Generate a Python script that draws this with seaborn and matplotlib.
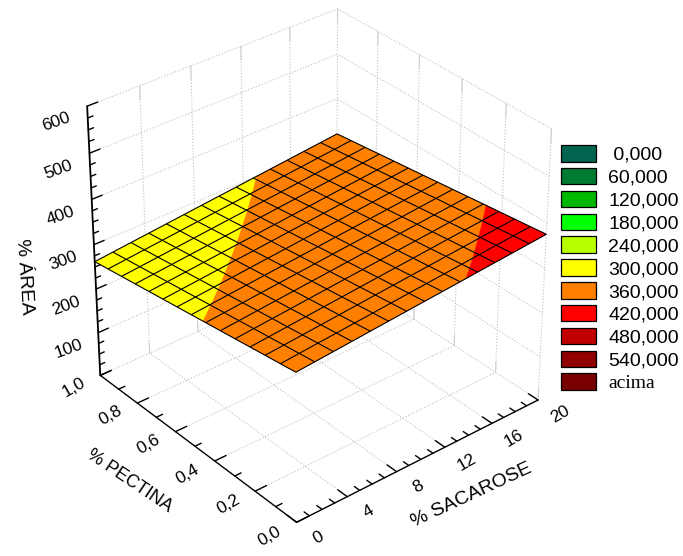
import numpy as np
import matplotlib
matplotlib.use("Agg")
import matplotlib.pyplot as plt
from matplotlib.patches import Patch
from mpl_toolkits.mplot3d import proj3d
from mpl_toolkits.mplot3d.art3d import Poly3DCollection
import seaborn as sns

# axis values
sacarose_ticks = [0, 4, 8, 12, 16, 20]
pectina_ticks = [0.0, 0.2, 0.4, 0.6, 0.8, 1.0]
pectina_labels = ["0,0", "0,2", "0,4", "0,6", "0,8", "1,0"]
area_ticks = [100, 200, 300, 400, 500, 600]

# surface: one row per pectina step (0 to 1), one column per sacarose step (0 to 20)
sacarose_grid = [0, 1.43, 2.86, 4.29, 5.71, 7.14, 8.57, 10, 11.43, 12.86, 14.29, 15.71, 17.14, 18.57, 20]
pectina_grid = [0, .0714, .1429, .2143, .2857, .3571, .4286, .5, .5714, .6429, .7143, .7857, .8571, .9286, 1]
area_grid = [
    [330.0, 333.2, 336.4, 339.6, 342.9, 346.1, 349.3, 352.5, 355.7, 358.9, 362.2, 365.4, 368.6, 371.8, 375.0],
    [325.1, 328.4, 331.7, 334.9, 338.2, 341.5, 344.8, 348.1, 351.3, 354.6, 357.9, 361.2, 364.5, 367.8, 371.0],
    [320.3, 323.6, 327.0, 330.3, 333.7, 337.0, 340.4, 343.7, 347.1, 350.4, 353.8, 357.1, 360.5, 363.8, 367.1],
    [315.4, 318.8, 322.2, 325.6, 329.0, 332.5, 335.9, 339.3, 342.7, 346.1, 349.5, 352.9, 356.3, 359.8, 363.2],
    [310.6, 314.1, 317.6, 321.0, 324.5, 328.0, 331.5, 334.9, 338.4, 341.9, 345.4, 348.8, 352.3, 355.8, 359.3],
    [305.7, 309.2, 312.8, 316.3, 319.9, 323.4, 327.0, 330.5, 334.0, 337.6, 341.1, 344.7, 348.2, 351.7, 355.3],
    [300.9, 304.5, 308.1, 311.7, 315.3, 318.9, 322.5, 326.2, 329.8, 333.4, 337.0, 340.6, 344.2, 347.8, 351.4],
    [296.0, 299.7, 303.3, 307.0, 310.7, 314.4, 318.0, 321.7, 325.4, 329.1, 332.7, 336.4, 340.1, 343.7, 347.4],
    [291.1, 294.8, 298.6, 302.3, 306.1, 309.8, 313.5, 317.3, 321.0, 324.7, 328.5, 332.2, 336.0, 339.7, 343.4],
    [286.3, 290.1, 293.9, 297.7, 301.5, 305.3, 309.1, 312.9, 316.7, 320.5, 324.3, 328.1, 331.9, 335.7, 339.5],
    [281.4, 285.3, 289.1, 293.0, 296.9, 300.7, 304.6, 308.5, 312.4, 316.2, 320.1, 324.0, 327.8, 331.7, 335.6],
    [276.6, 280.5, 284.5, 288.4, 292.3, 296.3, 300.2, 304.1, 308.1, 312.0, 315.9, 319.9, 323.8, 327.7, 331.7],
    [271.7, 275.7, 279.7, 283.7, 287.7, 291.7, 295.7, 299.7, 303.7, 307.7, 311.7, 315.7, 319.7, 323.7, 327.7],
    [266.9, 271.0, 275.0, 279.1, 283.2, 287.2, 291.3, 295.4, 299.4, 303.5, 307.6, 311.6, 315.7, 319.7, 323.8],
    [262.0, 266.1, 270.3, 274.4, 278.5, 282.7, 286.8, 290.9, 295.0, 299.2, 303.3, 307.4, 311.6, 315.7, 319.8],
]

# legend
level_tops = [0, 60, 120, 180, 240, 300, 360, 420, 480, 540, 600]
level_labels = [" 0,000", "60,000", "120,000", "180,000", "240,000", "300,000",
                "360,000", "420,000", "480,000", "540,000", "acima"]
level_hex = ["#006450", "#007c32", "#00b800", "#00ff00", "#b8ff00", "#ffff00",
             "#ff8000", "#ff0000", "#c00000", "#900000", "#780000"]

sns.set_theme(style="white", font="Liberation Sans")
palette = sns.color_palette(level_hex)

fig = plt.figure(figsize=(6.83, 5.56), dpi=100)
# camera and box were calibrated against the corners of the cube
ax = fig.add_axes([41.3 / 683, 23.0 / 556, 538.5 / 683, 538.5 / 556], projection="3d")
ax.computed_zorder = False
ax.view_init(elev=32.568, azim=-129.617)
ax.set_proj_type("persp", focal_length=1.005)
ax.set_box_aspect((0.996, 1.003, 1))
ax.set_axis_off()


def set_limits():
    ax.set_xlim(0, 20, view_margin=0)
    ax.set_ylim(0, 1, view_margin=0)
    ax.set_zlim(0, 600, view_margin=0)


def clip(poly, level, keep_above):
    # cut a polygon at height = level
    kept = []
    for k in range(len(poly)):
        a, b = poly[k], poly[(k + 1) % len(poly)]
        a_in = a[2] >= level if keep_above else a[2] <= level
        b_in = b[2] >= level if keep_above else b[2] <= level
        if a_in:
            kept.append(a)
        if a_in != b_in:
            t = (level - a[2]) / (b[2] - a[2])
            kept.append(a + t * (b - a))
    return kept


def tick_label(x, y, z, text, rotation):
    # Text3D ignores rotation, so place a 2D text at the projected spot
    px, py, _ = proj3d.proj_transform(x, y, z, ax.get_proj())
    ax.text2D(px, py, text, transform=ax.transData, fontsize=12.5, color="black", ha="center",
              va="center", rotation=rotation, rotation_mode="anchor", zorder=5)


set_limits()

# dotted walls and floor
grid_style = dict(color="#c0c0c0", linestyle=":", linewidth=0.8, zorder=1)
stub_style = dict(color="#d0d0d0", linestyle="-", linewidth=0.8, zorder=1)
for s in sacarose_ticks[1:]:
    ax.plot([s, s], [1, 1], [0, 600], **grid_style)
    ax.plot([s, s], [0, 1], [0, 0], **grid_style)
    ax.plot([s, s], [1, 1], [570, 600], **stub_style)
    ax.plot([s, s], [1, 1], [0, 25], **stub_style)
for p in pectina_ticks[:-1]:
    ax.plot([20, 20], [p, p], [0, 600], **grid_style)
    ax.plot([20, 20], [p, p], [570, 600], **stub_style)
    ax.plot([20, 20], [p, p], [0, 25], **stub_style)
for p in pectina_ticks[1:]:
    ax.plot([0, 20], [p, p], [0, 0], **grid_style)
for z in area_ticks:
    ax.plot([0, 20], [1, 1], [z, z], **grid_style)
    ax.plot([20, 20], [0, 1], [z, z], **grid_style)

# surface split in colour bands
S, P = np.meshgrid(sacarose_grid, pectina_grid)
Z = np.array(area_grid)
polys, face = [], []
for i in range(Z.shape[0] - 1):
    for j in range(Z.shape[1] - 1):
        cell = [np.array([S[i + a, j + b], P[i + a, j + b], Z[i + a, j + b]])
                for a, b in [(0, 0), (0, 1), (1, 1), (1, 0)]]
        for n, top in enumerate(level_tops):
            part = clip(cell, top - 60, True)
            part = clip(part, top, False) if part else part
            if len(part) >= 3:
                polys.append(np.array(part))
                face.append(palette[n])
surface = Poly3DCollection(polys, facecolors=face, edgecolors=face, linewidths=0.3, zorder=2)
ax.add_collection3d(surface)
ax.plot_wireframe(S, P, Z, color="black", linewidth=0.8, zorder=3)

# axes with ticks
axis_style = dict(color="black", linewidth=1.0, zorder=4)
ax.plot([0, 20], [0, 0], [0, 0], **axis_style)
ax.plot([0, 0], [0, 1], [0, 0], **axis_style)
ax.plot([0, 0], [1, 1], [0, 600], color="black", linewidth=1.3, zorder=4)
for s in range(0, 21):
    ax.plot([s, s], [0, 0.045 if s % 4 == 0 else 0.025], [0, 0], **axis_style)
for p in np.arange(0, 1.01, 0.1):
    ax.plot([0, 0.9 if round(p * 10) % 2 == 0 else 0.5], [p, p], [0, 0], **axis_style)
for z in range(0, 601, 25):
    ax.plot([0, 0.8 if z % 100 == 0 else 0.4], [1, 1], [z, z], **axis_style)

set_limits()

# tick labels
for z in area_ticks:
    tick_label(-2.35, 1, z - 8, str(z), 20)
for p, lab in zip(pectina_ticks, pectina_labels):
    tick_label(-2.1, p, 0, lab, 30)
for s in sacarose_ticks:
    tick_label(s, -0.1, 0, str(s), 30)

# axis titles
title_text = dict(color="black", ha="center", va="center", rotation_mode="anchor")
fig.text(24 / 683, 1 - 277 / 556, "% ÁREA", fontsize=14, rotation=-86, **title_text)
fig.text(130 / 683, 1 - 481 / 556, "% PECTINA", fontsize=13, rotation=-34, **title_text)
fig.text(471 / 683, 1 - 495 / 556, "% SACAROSE", fontsize=14, rotation=25, **title_text)

handles = [Patch(facecolor=c, edgecolor="black", linewidth=0.9) for c in palette]
leg = fig.legend(handles, level_labels, loc="upper left", bbox_to_anchor=(561 / 683, 1 - 145 / 556),
                 frameon=False, fontsize=14, handlelength=1.8, handleheight=0.93, handletextpad=0.62,
                 labelspacing=0.2, borderpad=0, borderaxespad=0, labelcolor="black")
leg.get_texts()[-1].set_family("Liberation Serif")

fig.savefig("out.png", dpi=100)
